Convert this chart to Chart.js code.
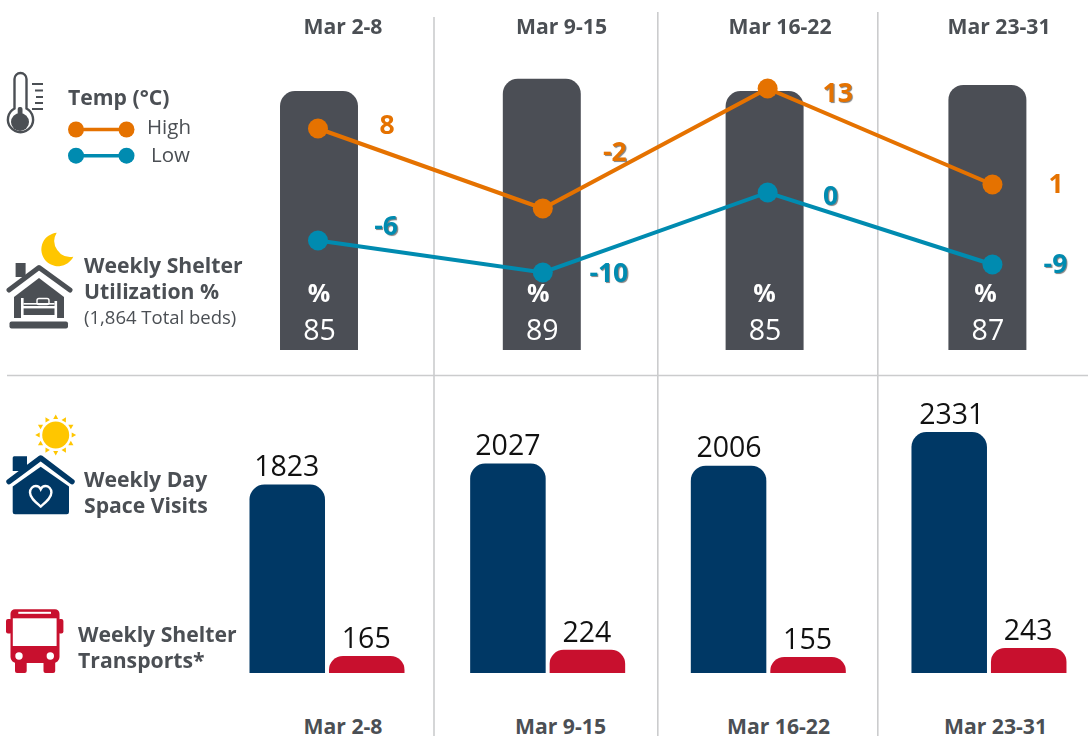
<!DOCTYPE html>
<html>
<head>
<meta charset="utf-8">
<script src="https://cdn.jsdelivr.net/npm/chart.js@4"></script>
<style>
html,body{margin:0;padding:0;background:#fff;width:1088px;height:750px;overflow:hidden;font-family:"Open Sans",sans-serif}
#page{position:relative;width:1088px;height:750px;overflow:hidden}
.wrap{position:absolute;left:0;width:1088px;overflow:hidden}
.wrap canvas{display:block}
.t{position:absolute;white-space:nowrap;color:#4B4F54;line-height:1;transform:translateY(-50%)}
.b{font-weight:700;font-size:21.2px}
.c{transform:translate(-50%,-50%);font-weight:700;font-size:21.2px}
svg.art{position:absolute;left:0;top:0}
</style>
</head>
<body>
<div id="page">
<svg class="art" width="1088" height="750" viewBox="0 0 1088 750">
  <g stroke="#CBCCCD" stroke-width="1.6">
    <line x1="434" y1="17" x2="434" y2="736"/>
    <line x1="657.8" y1="12" x2="657.8" y2="736"/>
    <line x1="877.8" y1="12" x2="877.8" y2="736"/>
    <line x1="7" y1="375.5" x2="1088" y2="375.5"/>
  </g>
  <!-- thermometer -->
  <g fill="none" stroke="#4B4F54" stroke-width="2.4">
    <path d="M14.5 108.5V79a6 6 0 0 1 12 0v29.5a12.6 12.6 0 1 1-12 0z"/>
  </g>
  <circle cx="20" cy="122" r="9" fill="#4B4F54"/>
  <rect x="17.7" y="107" width="4.8" height="12" rx="2" fill="#4B4F54"/>
  <g stroke="#4B4F54" stroke-width="2">
    <line x1="32" y1="84" x2="43" y2="84"/><line x1="35" y1="90.5" x2="43" y2="90.5"/>
    <line x1="36" y1="97" x2="43" y2="97"/><line x1="35" y1="103" x2="43" y2="103"/>
    <line x1="32" y1="109" x2="43" y2="109"/>
  </g>
  <!-- legend -->
  <g>
    <line x1="76" y1="129.5" x2="126" y2="129.5" stroke="#E57200" stroke-width="3.5"/>
    <circle cx="76" cy="129.5" r="8" fill="#E57200"/><circle cx="126.5" cy="129.5" r="8" fill="#E57200"/>
    <line x1="76" y1="155.7" x2="126" y2="155.7" stroke="#008BB0" stroke-width="3.5"/>
    <circle cx="76" cy="155.7" r="8" fill="#008BB0"/><circle cx="126.5" cy="155.7" r="8" fill="#008BB0"/>
  </g>
  <!-- moon -->
  <path d="M56.7 232.7A16.8 16.8 0 1 0 73.3 256.7A16 16 0 0 1 56.7 232.7Z" fill="#FFC600"/>
  <!-- shelter house -->
  <rect x="15.6" y="263" width="10" height="14" fill="#4B4F54"/>
  <path d="M14 297L39 278L64 297V318H14Z" fill="#4B4F54"/>
  <path d="M9 290L39 267.5L70 290" fill="none" stroke="#4B4F54" stroke-width="5" stroke-linecap="round" stroke-linejoin="round"/>
  <g fill="#fff">
    <rect x="21" y="298" width="2.6" height="20"/><rect x="54.5" y="301" width="2.6" height="17"/>
    <rect x="23" y="306" width="32" height="2.4"/><rect x="23" y="315" width="32" height="3"/>
    <rect x="23.5" y="303" width="31" height="1.6"/>
  </g>
  <rect x="37" y="298.5" width="12" height="6" rx="2" fill="none" stroke="#fff" stroke-width="1.4"/>
  <rect x="9.5" y="321.5" width="58.5" height="7" rx="2" fill="#4B4F54"/>
  <!-- sun -->
  <circle cx="55.7" cy="435" r="13.5" fill="#FFC600"/>
  <g id="rays" fill="#FFC600"></g>
  <!-- day house -->
  <path d="M12.7 456.7a1.5 1.5 0 0 1 1.5-1.5H27V470H12.7Z" fill="#003865" transform="translate(0,1)"/>
  <path d="M12.7 486.5L40.7 466.7L69 486.5V512a2.3 2.3 0 0 1-2.3 2.3H15a2.3 2.3 0 0 1-2.3-2.3Z" fill="#003865"/>
  <path d="M9 481.7L40.7 458L72 481.7" fill="none" stroke="#003865" stroke-width="5.4" stroke-linecap="round" stroke-linejoin="round"/>
  <path d="M40.7 506.5C36 502.5 30 498 30 492.5C30 488.5 33 486 35.8 486C38 486 39.8 487.2 40.7 489.2C41.6 487.2 43.4 486 45.6 486C48.4 486 51.4 488.5 51.4 492.5C51.4 498 45.4 502.5 40.7 506.5Z" fill="none" stroke="#fff" stroke-width="2.4"/>
  <!-- bus -->
  <rect x="6" y="619" width="6" height="14.5" rx="2" fill="#C8102E"/><rect x="58" y="619" width="5.4" height="14.5" rx="2" fill="#C8102E"/>
  <path d="M15 609.3H55a4.5 4.5 0 0 1 4.5 4.5V657a6 6 0 0 1-6 6H16.5a6 6 0 0 1-6-6V613.8a4.5 4.5 0 0 1 4.5-4.5Z" fill="#C8102E"/>
  <rect x="15" y="660" width="11.7" height="13" rx="2" fill="#C8102E"/><rect x="43.5" y="660" width="11.7" height="13" rx="2" fill="#C8102E"/>
  <rect x="12.8" y="618.3" width="43.8" height="27.7" fill="#fff"/>
  <rect x="18.3" y="611.8" width="32.7" height="2" fill="#fff"/>
  <circle cx="19" cy="656" r="3.7" fill="#fff"/><circle cx="50.3" cy="656" r="3.7" fill="#fff"/>
</svg>

<div class="wrap" style="top:0;height:350px"><canvas id="top" width="1100" height="350" style="width:1100px;height:350px"></canvas></div>
<div class="wrap" style="top:376px;height:297px"><canvas id="bottom" width="1100" height="297" style="width:1100px;height:297px"></canvas></div>

<div class="t b" style="left:68px;top:97px">Temp (°C)</div>
<div class="t" style="left:147px;top:126px;font-size:20.5px">High</div>
<div class="t" style="left:151px;top:154px;font-size:20.5px">Low</div>
<div class="t b" style="left:84px;top:265px">Weekly Shelter</div>
<div class="t b" style="left:84px;top:291px">Utilization %</div>
<div class="t" style="left:84px;top:317px;font-size:18.5px">(1,864 Total beds)</div>
<div class="t b" style="left:84px;top:479px">Weekly Day</div>
<div class="t b" style="left:84px;top:505px">Space Visits</div>
<div class="t b" style="left:78px;top:634px">Weekly Shelter</div>
<div class="t b" style="left:78px;top:660px">Transports*</div>
</div>

<script>
// ---- data ----
const weeks = ["Mar 2-8", "Mar 9-15", "Mar 16-22", "Mar 23-31"];
const utilization = [85, 89, 85, 87];
const tempHigh = [8, -2, 13, 1];
const tempLow = [-6, -10, 0, -9];
const dayVisits = [1823, 2027, 2006, 2331];
const transports = [165, 224, 155, 243];

// ---- label placement (not data) ----
const headerTopX = [343, 561.5, 780, 999];
const headerBottomX = [343, 560.5, 778.5, 995.5];
const highOffsets = [[69,-2],[72,-55],[70,6],[63.5,1]];
const lowOffsets = [[68,-13.5],[66,2],[63,5],[63,1]];
const highShadow = [0,1,1,0];
const lowShadow = [1,1,1,1];
const pctDx = [0,-3.5,0,-2];
const visitDx = [-0.5,0,0.5,2.5];

const ORANGE="#E57200", TEAL="#008BB0", SLATE="#4B4E55", NAVY="#003865", RED="#C8102E";
const FONT='"Open Sans", sans-serif';

const page=document.getElementById('page');
function header(list,y){
  weeks.forEach((w,i)=>{
    const d=document.createElement('div');
    d.className='t c'; d.textContent=w;
    d.style.left=list[i]+'px'; d.style.top=y+'px';
    page.appendChild(d);
  });
}
header(headerTopX,26); header(headerBottomX,726);

const rays=document.getElementById('rays');
for(let a=0;a<360;a+=30){
  const p=document.createElementNS('http://www.w3.org/2000/svg','polygon');
  p.setAttribute('points','55.7,414.5 53.2,419 58.2,419');
  p.setAttribute('transform','rotate('+a+' 55.7 435)');
  rays.appendChild(p);
}

const topLabels={
  id:'topLabels',
  afterDatasetsDraw(chart){
    const c=chart.ctx; c.save();
    c.textAlign='center'; c.textBaseline='middle';
    const bars=chart.getDatasetMeta(0).data;
    bars.forEach((el,i)=>{
      c.fillStyle='#fff';
      c.font='700 25px '+FONT;
      c.fillText('%',el.x+pctDx[i],294.5);
      c.font='400 28.5px '+FONT;
      c.fillText(String(utilization[i]),el.x+0.5,332);
    });
    const put=(idx,vals,offs,shadow,color)=>{
      chart.getDatasetMeta(idx).data.forEach((el,i)=>{
        c.save();
        c.font='700 26.5px '+FONT; c.fillStyle=color;
        if(shadow[i]){c.shadowColor='rgba(90,90,90,.75)';c.shadowOffsetX=1.2;c.shadowOffsetY=1.2;c.shadowBlur=0.8;}
        c.fillText(String(vals[i]),el.x+offs[i][0],el.y+offs[i][1]);
        c.restore();
      });
    };
    put(1,tempHigh,highOffsets,highShadow,ORANGE);
    put(2,tempLow,lowOffsets,lowShadow,TEAL);
    c.restore();
  }
};

new Chart(document.getElementById('top'),{
  data:{
    labels:weeks,
    datasets:[
      {type:'bar',label:'Weekly Shelter Utilization %',data:utilization,backgroundColor:SLATE,
       grouped:false,barPercentage:0.35,categoryPercentage:1,borderRadius:{topLeft:15,topRight:15},borderSkipped:'bottom',
       xAxisID:'x',yAxisID:'y',order:2},
      {type:'line',label:'High',data:tempHigh.map((v,i)=>({x:i,y:v})),borderColor:ORANGE,backgroundColor:ORANGE,
       borderWidth:4,pointRadius:10,pointBackgroundColor:ORANGE,pointBorderWidth:0,tension:0,
       xAxisID:'xT',yAxisID:'yT',order:1,clip:false},
      {type:'line',label:'Low',data:tempLow.map((v,i)=>({x:i,y:v})),borderColor:TEAL,backgroundColor:TEAL,
       borderWidth:4,pointRadius:10,pointBackgroundColor:TEAL,pointBorderWidth:0,tension:0,
       xAxisID:'xT',yAxisID:'yT',order:1,clip:false}
    ]
  },
  options:{
    responsive:false,animation:false,devicePixelRatio:1,
    layout:{autoPadding:false,padding:{left:207.6,right:1.2,top:45.3,bottom:0}},
    plugins:{legend:{display:false},tooltip:{enabled:false}},
    scales:{
      x:{display:false,type:'category'},
      y:{display:false,min:0,max:100},
      xT:{display:false,type:'linear',min:-0.491,max:3.473},
      yT:{display:false,type:'linear',min:-19.69,max:18.4}
    }
  },
  plugins:[topLabels]
});

const bottomLabels={
  id:'bottomLabels',
  beforeDatasetDraw(chart,args){
    if(args.index!==1) return;
    const c=chart.ctx;
    c.save(); c.fillStyle=RED;
    args.meta.data.forEach(el=>{
      const l=el.x-el.width/2,h=el.base-el.y,r=14;
      c.save();
      const p=new Path2D(); p.rect(l-1,el.y-1,el.width+2,h+1);
      c.clip(p);
      c.beginPath();
      c.roundRect(l,el.y,el.width,h+r+2,r);
      c.fill();
      c.restore();
    });
    c.restore();
    return false;
  },
  afterDatasetsDraw(chart){
    const c=chart.ctx; c.save();
    c.textAlign='center'; c.textBaseline='alphabetic'; c.fillStyle='#111';
    c.font='400 28.5px '+FONT;
    chart.getDatasetMeta(0).data.forEach((el,i)=>{
      c.fillText(String(dayVisits[i]),el.x+visitDx[i],el.y-8.5);
    });
    chart.getDatasetMeta(1).data.forEach((el,i)=>{
      c.fillText(String(transports[i]),el.x-0.5,el.y-8);
    });
    c.restore();
  }
};

new Chart(document.getElementById('bottom'),{
  type:'bar',
  data:{
    labels:weeks,
    datasets:[
      {label:'Weekly Day Space Visits',data:dayVisits,backgroundColor:NAVY,
       barPercentage:0.95,categoryPercentage:0.7205,borderRadius:{topLeft:15,topRight:15},borderSkipped:'bottom'},
      {label:'Weekly Shelter Transports',data:transports,backgroundColor:RED,
       barPercentage:0.95,categoryPercentage:0.7205}
    ]
  },
  options:{
    responsive:false,animation:false,devicePixelRatio:1,
    layout:{autoPadding:false,padding:{left:216.67,right:0.7,top:38.6,bottom:0}},
    plugins:{legend:{display:false},tooltip:{enabled:false}},
    scales:{
      x:{display:false},
      y:{display:false,min:0,max:2500}
    }
  },
  plugins:[bottomLabels]
});
</script>
</body>
</html>
